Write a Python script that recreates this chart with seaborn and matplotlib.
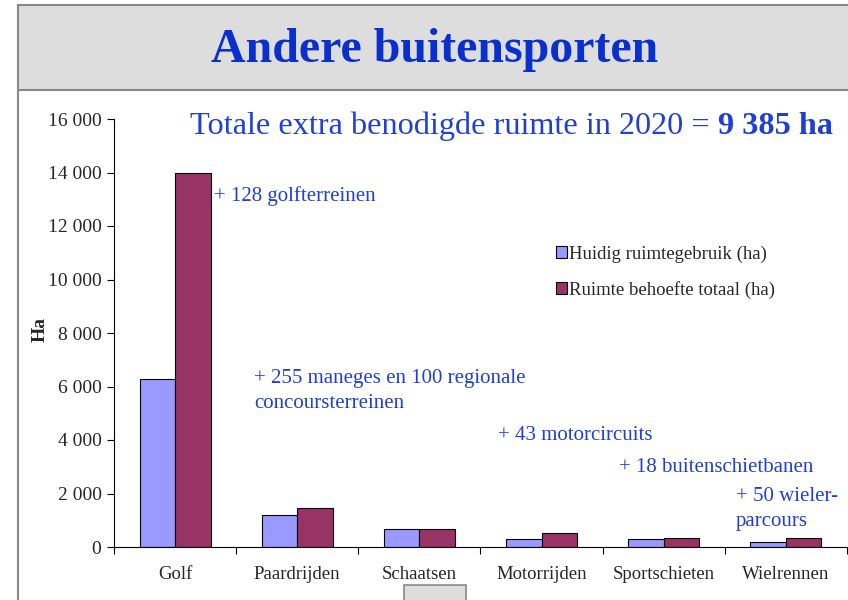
import matplotlib
matplotlib.use("Agg")
import matplotlib.pyplot as plt
from matplotlib.patches import Rectangle
from matplotlib.lines import Line2D
from matplotlib.ticker import FuncFormatter, FixedLocator
import seaborn as sns
import pandas as pd

sports = ["Golf", "Paardrijden", "Schaatsen", "Motorrijden", "Sportschieten", "Wielrennen"]
huidig = [6280, 1180, 680, 300, 300, 200]
behoefte = [14000, 1450, 670, 535, 325, 350]
series = ["Huidig ruimtegebruik (ha)", "Ruimte behoefte totaal (ha)"]
colors = ["#9999FF", "#993366"]
notes = [
    "+ 128 golfterreinen",
    "+ 255 maneges en 100 regionale\nconcoursterreinen",
    "+ 43 motorcircuits",
    "+ 18 buitenschietbanen",
    "+ 50 wieler-\nparcours",
]
headline = "Totale extra benodigde ruimte in 2020 = "
headline_total = "9 385 ha"
title = "Andere buitensporten"

df = pd.DataFrame({
    "sport": sports * 2,
    "ha": huidig + behoefte,
    "serie": [series[0]] * len(sports) + [series[1]] * len(sports),
})

sns.set_theme(style="white")
plt.rcParams["font.family"] = ["Liberation Serif", "DejaVu Serif"]

W, H = 848, 600
fig = plt.figure(figsize=(W / 100, H / 100), dpi=100)
fig.patch.set_facecolor("white")


def fx(px):
    return px / W


def fy(py):
    return 1 - py / H


# slide frame: title band and left border
fig.patches.append(Rectangle((fx(18), fy(90)), fx(W + 10) - fx(18), fy(5) - fy(90),
                             transform=fig.transFigure, facecolor="#DDDDDD",
                             edgecolor="#8a8a8a", linewidth=1.5, zorder=0))
fig.lines.append(Line2D([fx(18), fx(18)], [fy(90), 0], transform=fig.transFigure,
                        color="#8a8a8a", linewidth=1.5))
fig.patches.append(Rectangle((fx(404), fy(602)), fx(466) - fx(404), fy(585) - fy(602),
                             transform=fig.transFigure, facecolor="#DDDDDD",
                             edgecolor="#8a8a8a", linewidth=1.2, zorder=0))
fig.text(fx(435), fy(50), title, ha="center", va="center", fontsize=34.5,
         fontweight="bold", color="#0a2fcf")

ax = fig.add_axes([fx(114), fy(547), fx(847) - fx(114), fy(119) - fy(547)])
sns.barplot(data=df, x="sport", y="ha", hue="serie", palette=colors, width=0.58,
            edgecolor="black", linewidth=0.8, saturation=1, ax=ax, legend=True)

ax.set_ylim(0, 16000)
ax.set_xlim(-0.5, len(sports) - 0.5)
ax.yaxis.set_major_locator(FixedLocator(range(0, 16001, 2000)))
ax.yaxis.set_major_formatter(FuncFormatter(lambda v, p: f"{int(v):,}".replace(",", " ")))
ax.set_xticks(range(len(sports)))
ax.set_xticklabels(sports)
ax.set_xticks([i - 0.5 for i in range(len(sports) + 1)], minor=True)
ax.tick_params(axis="x", which="major", length=0, pad=14, labelsize=13.5)
ax.tick_params(axis="x", which="minor", bottom=True, length=5, width=0.8,
               direction="out", color="black")
ax.tick_params(axis="y", length=5, width=0.8, direction="out", color="black",
               labelsize=14, pad=4, left=True)
ax.set_xlabel("")
ax.set_ylabel("")
for side in ["top", "right"]:
    ax.spines[side].set_visible(False)
for side in ["left", "bottom"]:
    ax.spines[side].set_color("black")
    ax.spines[side].set_linewidth(0.8)
ax.set_facecolor("white")

fig.text(fx(40), fy(330), "Ha", rotation=90, ha="center", va="center",
         fontsize=14, fontweight="bold")

handles, labels = ax.get_legend_handles_labels()
ax.legend(handles, labels, loc="upper left", bbox_to_anchor=(fx(548), fy(238)),
          bbox_transform=fig.transFigure, frameon=False, fontsize=13.5,
          handlelength=0.6, handleheight=0.6, handletextpad=0.1,
          labelspacing=0.95, borderaxespad=0)

note_color = "#1f3fd6"
t1 = fig.text(fx(190), fy(126), headline, ha="left", va="center", fontsize=23.2,
              color=note_color)
fig.canvas.draw()
bb = t1.get_window_extent(fig.canvas.get_renderer())
fig.text(bb.x1 / W, fy(126), headline_total, ha="left", va="center", fontsize=23.2,
         fontweight="bold", color=note_color)

note_pos = [(214, 196), (254, 391), (498, 436), (619, 468), (736, 509)]
for txt, (px, py) in zip(notes, note_pos):
    fig.text(fx(px), fy(py), txt, ha="left", va="center", fontsize=15,
             color=note_color, linespacing=1.38)

fig.savefig("out.png", dpi=100)
